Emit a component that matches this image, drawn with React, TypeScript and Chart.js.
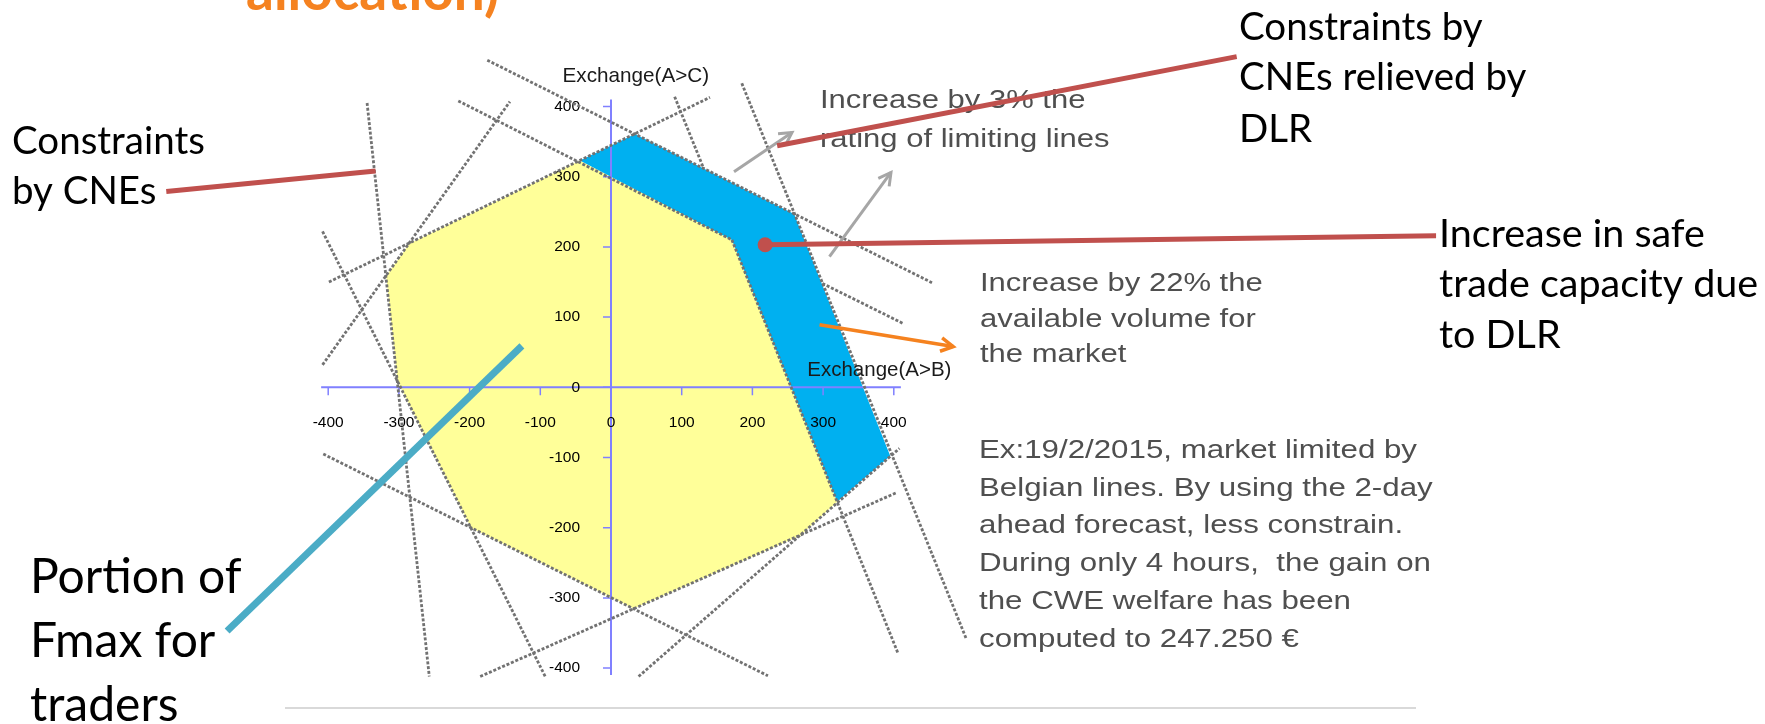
import React, { useEffect, useRef } from 'react';
import { Chart, registerables } from 'chart.js';

Chart.register(...registerables);

const W = 1765;
const H = 724;

// Axes
const xTicks = [-400, -300, -200, -100, 0, 100, 200, 300, 400];
const yTicks = [-400, -300, -200, -100, 0, 100, 200, 300, 400];
const axisSpan = [-410, 410];
const xAxisTitle = 'Exchange(A>B)';
const yAxisTitle = 'Exchange(A>C)';

// Portion of Fmax for traders (yellow domain)
const fmaxX = [-44, 171, 320, 268, 32, -198, -302, -318, -285, -44];
const fmaxY = [323, 210, -163, -211, -315, -200, 9, 159, 205, 323];

// Increase in safe trade capacity due to DLR (blue domain)
const dlrX = [-44, 34, 259, 395, 320, 171, -44];
const dlrY = [323, 361, 247, -98, -163, 210, 323];

// Constraints by CNEs (dotted lines, as segments)
const cneX1 = [-175, -216, 299, -399, -408, -345, -408, -407, -185, 39, 185, 90, 171];
const cneY1 = [466, 408, 148, 150, 32, 405, 222, -95, -412, -412, 433, 414, 210];
const cneX2 = [454, 171, 413, 140, -143, -257, -93, 222, 404, 408, 502, 131, 406];
const cneY2 = [149, 210, 91, 413, 407, -412, -412, -411, -150, -87, -357, 312, -379];

// Callouts (in chart units)
const cneCalloutX = [-629, -333];
const cneCalloutY = [279, 308];
const dlrCalloutX = [235, 885];
const dlrCalloutY = [344, 471];
const gainCalloutX = [218, 1167];
const gainCalloutY = [203, 216];
const fmaxCalloutX = [-126, -543];
const fmaxCalloutY = [59, -347];
const ratingArrowX = [[174, 256], [309, 396]];
const ratingArrowY = [[307, 363], [186, 306]];
const volumeArrowX = [295, 484];
const volumeArrowY = [89, 58];

// Texts
const titleFragment = 'allocation)';
const cneLabel = ['Constraints', 'by CNEs'];
const fmaxLabel = ['Portion of', 'Fmax for', 'traders'];
const relievedLabel = ['Constraints by', 'CNEs relieved by', 'DLR'];
const gainLabel = ['Increase in safe', 'trade capacity due', 'to DLR'];
const ratingLabel = ['Increase by 3% the', 'rating of limiting lines'];
const volumeLabel = ['Increase by 22% the', 'available volume for', 'the market'];
const exampleLabel = [
  'Ex:19/2/2015, market limited by',
  'Belgian lines. By using the 2-day',
  'ahead forecast, less constrain.',
  'During only 4 hours,  the gain on',
  'the CWE welfare has been',
  'computed to 247.250 \u20ac',
];

const ARIAL = '"Liberation Sans", Arial, sans-serif';
const CAL = 'Lato, "Open Sans", sans-serif';

function drawLines(
  ctx: CanvasRenderingContext2D,
  lines: string[],
  x: number,
  baselines: number[],
  font: string,
  color: string,
  sx = 1
) {
  ctx.save();
  ctx.font = font;
  ctx.fillStyle = color;
  ctx.textAlign = 'left';
  ctx.textBaseline = 'alphabetic';
  lines.forEach((t, i) => {
    ctx.save();
    ctx.translate(x, baselines[i]);
    ctx.scale(sx, 1);
    ctx.fillText(t, 0, 0);
    ctx.restore();
  });
  ctx.restore();
}

export default function App() {
  const ref = useRef<HTMLCanvasElement>(null);

  useEffect(() => {
    const canvas = ref.current;
    if (!canvas) return;
    const pts = (xs: number[], ys: number[]) => xs.map((x, i) => ({ x, y: ys[i] }));

    const lineSets = cneX1.map((x1, i) => ({
      data: [
        { x: x1, y: cneY1[i] },
        { x: cneX2[i], y: cneY2[i] },
      ],
      borderColor: '#727272',
      borderWidth: 2.8,
      borderDash: [3, 1.8],
      pointRadius: 0,
      fill: false,
      clip: false,
      tension: 0,
      order: 0,
    }));

    const datasets: any[] = [
      {
        data: pts(fmaxX, fmaxY),
        backgroundColor: '#ffff99',
        borderColor: 'rgba(0,0,0,0)',
        borderWidth: 0,
        fill: 'shape',
        pointRadius: 0,
        tension: 0,
        order: 2,
      },
      {
        data: pts(dlrX, dlrY),
        backgroundColor: '#00b0f0',
        borderColor: 'rgba(0,0,0,0)',
        borderWidth: 0,
        fill: 'shape',
        pointRadius: 0,
        tension: 0,
        order: 1,
      },
      ...lineSets,
    ];

    const axesPlugin = {
      id: 'centerAxes',
      afterDatasetDraw(chart: any, args: any) {
        if (args.index !== 1) return;
        const ctx: CanvasRenderingContext2D = chart.ctx;
        const xs = chart.scales.x;
        const ys = chart.scales.y;
        const ox = xs.getPixelForValue(0);
        const oy = ys.getPixelForValue(0);
        ctx.save();
        ctx.strokeStyle = '#8080ff';
        ctx.lineWidth = 2;
        ctx.beginPath();
        ctx.moveTo(xs.getPixelForValue(axisSpan[0]), oy);
        ctx.lineTo(xs.getPixelForValue(axisSpan[1]), oy);
        ctx.moveTo(ox, ys.getPixelForValue(axisSpan[0]));
        ctx.lineTo(ox, ys.getPixelForValue(axisSpan[1]));
        ctx.stroke();
        ctx.lineWidth = 1.5;
        ctx.beginPath();
        xTicks.forEach((v) => {
          const p = xs.getPixelForValue(v);
          ctx.moveTo(p, oy);
          ctx.lineTo(p, oy + 8);
        });
        yTicks.forEach((v) => {
          const p = ys.getPixelForValue(v);
          ctx.moveTo(ox - 8, p);
          ctx.lineTo(ox, p);
        });
        ctx.stroke();
        ctx.fillStyle = '#000';
        ctx.font = '15.5px ' + ARIAL;
        ctx.textBaseline = 'middle';
        ctx.textAlign = 'center';
        xTicks.forEach((v) => ctx.fillText(String(v), xs.getPixelForValue(v), oy + 35));
        ctx.textAlign = 'right';
        yTicks.forEach((v) => ctx.fillText(String(v), ox - 31, ys.getPixelForValue(v)));
        ctx.restore();
      },
    };

    const annotPlugin = {
      id: 'annotations',
      afterDraw(chart: any) {
        const ctx: CanvasRenderingContext2D = chart.ctx;
        const xs = chart.scales.x;
        const ys = chart.scales.y;
        const px = (v: number) => xs.getPixelForValue(v);
        const py = (v: number) => ys.getPixelForValue(v);

        // axis titles
        ctx.save();
        ctx.fillStyle = '#1a1a1a';
        ctx.font = '20.7px ' + ARIAL;
        ctx.textAlign = 'left';
        ctx.textBaseline = 'alphabetic';
        ctx.fillText(yAxisTitle, 562.5, 81.7);
        ctx.font = '20.5px ' + ARIAL;
        ctx.fillText(xAxisTitle, 807.3, 376);
        ctx.restore();

        // title fragment
        drawLines(ctx, [titleFragment], 246, [10], 'bold 55px ' + CAL, '#f58220');

        // gray texts
        const g = '#4f4f4f';
        drawLines(ctx, ratingLabel, 820, [108.3, 146.7], '26.5px ' + ARIAL, g, 1.17);
        drawLines(ctx, volumeLabel, 980, [290.7, 326.7, 361.7], '26.5px ' + ARIAL, g, 1.17);
        drawLines(ctx, exampleLabel, 979, [458.3, 496, 533.3, 570.7, 609.3, 646.7], '26.5px ' + ARIAL, g, 1.18);

        // black callout texts
        drawLines(ctx, cneLabel, 12, [153.7, 204], '38.5px ' + CAL, '#000');
        drawLines(ctx, fmaxLabel, 30, [593.4, 657, 720.8], '48px ' + CAL, '#000');
        drawLines(ctx, relievedLabel, 1239, [40, 90, 141.7], '38.5px ' + CAL, '#000');
        drawLines(ctx, gainLabel, 1439, [246.7, 296.7, 348], '39.5px ' + CAL, '#000');

        // bottom separator
        ctx.save();
        ctx.strokeStyle = '#d9d9d9';
        ctx.lineWidth = 2;
        ctx.beginPath();
        ctx.moveTo(285, 708);
        ctx.lineTo(1416, 708);
        ctx.stroke();
        ctx.restore();

        const seg = (xa: number[], ya: number[], color: string, w: number) => {
          ctx.save();
          ctx.strokeStyle = color;
          ctx.lineWidth = w;
          ctx.lineCap = 'butt';
          ctx.beginPath();
          ctx.moveTo(px(xa[0]), py(ya[0]));
          ctx.lineTo(px(xa[1]), py(ya[1]));
          ctx.stroke();
          ctx.restore();
        };
        const arrow = (xa: number[], ya: number[], color: string, w: number) => {
          seg(xa, ya, color, w);
          const x0 = px(xa[0]), y0 = py(ya[0]);
          const x1 = px(xa[1]), y1 = py(ya[1]);
          const a = Math.atan2(y1 - y0, x1 - x0);
          const L = 14;
          const s = 0.5;
          ctx.save();
          ctx.strokeStyle = color;
          ctx.lineWidth = w;
          ctx.lineJoin = 'miter';
          ctx.beginPath();
          ctx.moveTo(x1 - L * Math.cos(a - s), y1 - L * Math.sin(a - s));
          ctx.lineTo(x1, y1);
          ctx.lineTo(x1 - L * Math.cos(a + s), y1 - L * Math.sin(a + s));
          ctx.stroke();
          ctx.restore();
        };

        ratingArrowX.forEach((xa, i) => arrow(xa, ratingArrowY[i], '#a6a6a6', 3));
        arrow(volumeArrowX, volumeArrowY, '#f5821f', 3.5);

        const red = '#c0504d';
        seg(cneCalloutX, cneCalloutY, red, 5);
        seg(dlrCalloutX, dlrCalloutY, red, 5);
        seg(gainCalloutX, gainCalloutY, red, 5);
        ctx.save();
        ctx.fillStyle = red;
        ctx.beginPath();
        ctx.arc(px(gainCalloutX[0]), py(gainCalloutY[0]), 7.5, 0, Math.PI * 2);
        ctx.fill();
        ctx.restore();
        seg(fmaxCalloutX, fmaxCalloutY, '#4bacc6', 7);
      },
    };

    const chart = new Chart(canvas, {
      type: 'line',
      data: { datasets },
      options: {
        responsive: false,
        animation: false,
        events: [],
        layout: { padding: { left: 243.36, right: 786.36, top: 22.26, bottom: 6.76 } },
        scales: {
          x: { type: 'linear', min: -520, max: 520, display: false },
          y: { type: 'linear', min: -470, max: 520, display: false },
        },
        plugins: { legend: { display: false }, tooltip: { enabled: false } },
      },
      plugins: [axesPlugin, annotPlugin],
    } as any);

    return () => chart.destroy();
  }, []);

  return (
    <div style={{ position: 'fixed', left: 0, top: 0, width: W, height: H, background: '#fff' }}>
      <canvas ref={ref} width={W} height={H} style={{ display: 'block', width: W, height: H }} />
    </div>
  );
}
